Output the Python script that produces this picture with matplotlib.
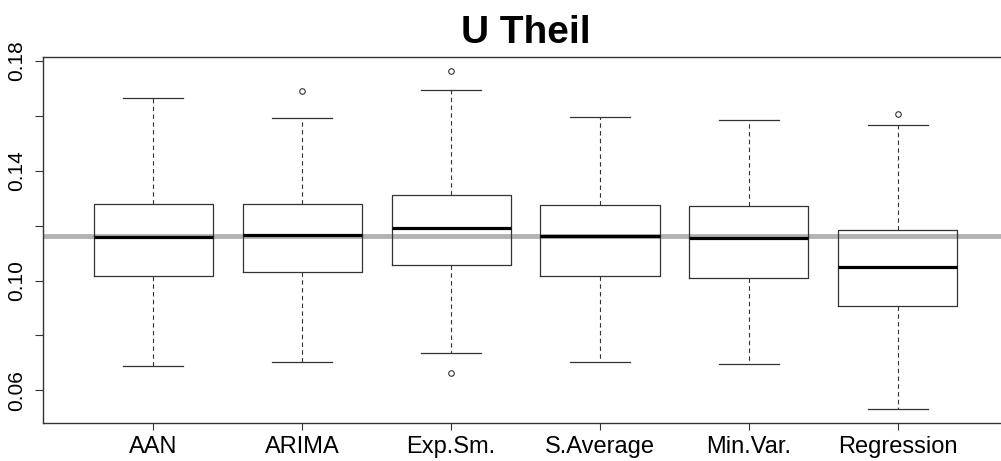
import matplotlib

matplotlib.use("Agg")
import matplotlib.pyplot as plt

plt.rcParams["font.family"] = ["Liberation Sans", "DejaVu Sans"]

# --------- Data ---------
methods = ["AAN", "ARIMA", "Exp.Sm.", "S.Average", "Min.Var.", "Regression"]
whisker_low = [0.0689, 0.0703, 0.0736, 0.0703, 0.0695, 0.0532]
q1 = [0.1017, 0.1031, 0.1057, 0.1016, 0.1010, 0.0909]
median = [0.1160, 0.1168, 0.1192, 0.1162, 0.1156, 0.1049]
q3 = [0.1279, 0.1279, 0.1313, 0.1277, 0.1271, 0.1184]
whisker_high = [0.1664, 0.1592, 0.1694, 0.1595, 0.1587, 0.1566]
outliers = [[], [0.1691], [0.1764, 0.0664], [], [], [0.1607]]
reference_level = 0.1163

y_ticks = [0.06, 0.08, 0.10, 0.12, 0.14, 0.16, 0.18]
y_tick_labels = ["0.06", "", "0.10", "", "0.14", "", "0.18"]

stats = []
for i, name in enumerate(methods):
    stats.append({
        "label": name,
        "whislo": whisker_low[i],
        "q1": q1[i],
        "med": median[i],
        "q3": q3[i],
        "whishi": whisker_high[i],
        "fliers": outliers[i],
    })

fig = plt.figure(figsize=(10.01, 4.61), dpi=100)
ax = fig.add_axes([0.043, 0.0824, 0.964, 0.7946])

# gray reference band drawn behind the (unfilled) boxes
ax.axhline(reference_level, color="#a6a6a6", linewidth=3.5, alpha=0.85, zorder=1)

edge = "#333333"
ax.bxp(
    stats,
    positions=range(1, len(methods) + 1),
    widths=0.8,
    patch_artist=False,
    boxprops=dict(color=edge, linewidth=0.9),
    medianprops=dict(color="black", linewidth=2.3),
    whiskerprops=dict(color=edge, linewidth=0.8, linestyle=(0, (4, 3))),
    capprops=dict(color=edge, linewidth=0.9),
    capwidths=0.4,
    flierprops=dict(marker="o", markerfacecolor="none", markeredgecolor=edge,
                    markersize=4, markeredgewidth=0.8),
    zorder=3,
)

ax.set_xlim(0.26, 6.74)
ax.set_ylim(0.0481, 0.1816)
ax.set_yticks(y_ticks)
ax.set_yticklabels(y_tick_labels, rotation=90, va="center", fontsize=15)
ax.set_xticks(range(1, len(methods) + 1))
ax.set_xticklabels(methods, fontsize=17)
ax.tick_params(axis="y", length=6, width=0.8, color=edge, pad=6)
ax.tick_params(axis="x", length=5, width=0.8, color=edge, pad=4)
for spine in ax.spines.values():
    spine.set_color(edge)
    spine.set_linewidth(1.0)

ax.set_title("U Theil", fontsize=28, fontweight="bold", pad=10)

fig.savefig("out.png", dpi=100)
plt.close(fig)
